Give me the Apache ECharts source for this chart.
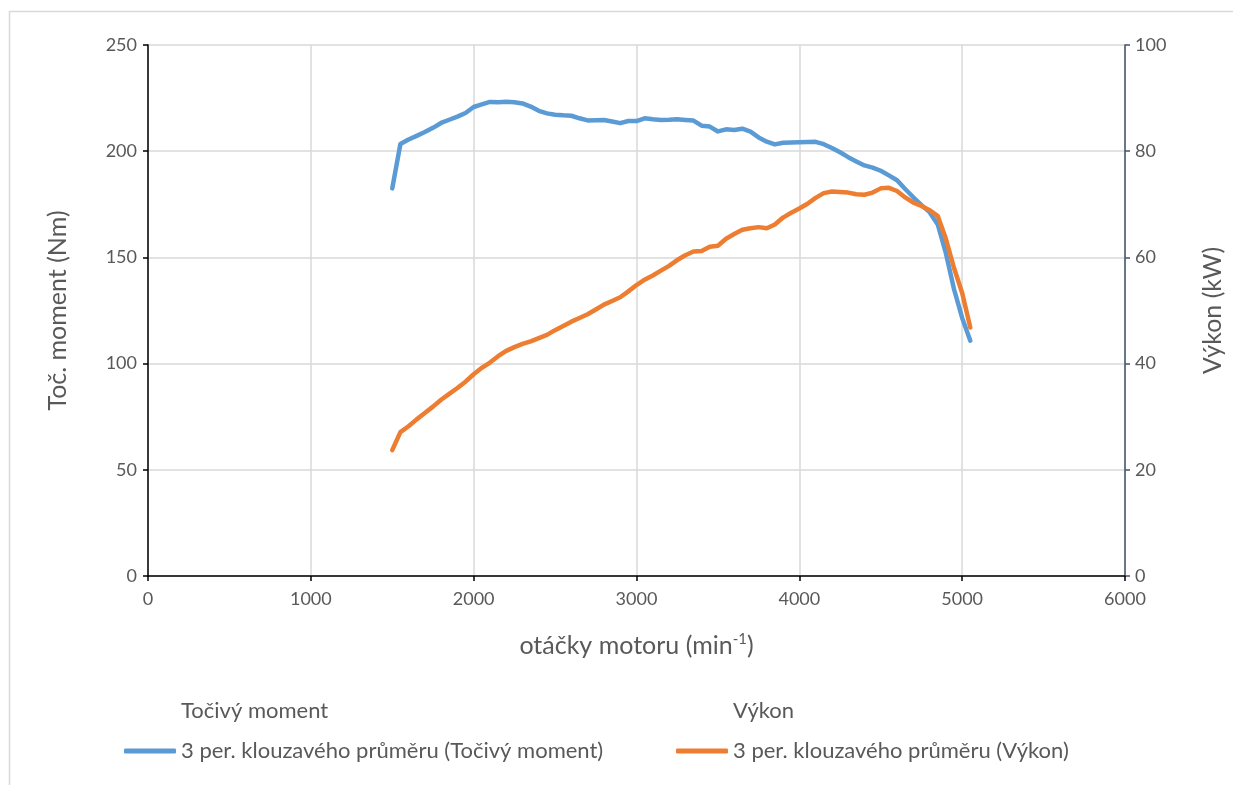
<!DOCTYPE html>
<html>
<head>
<meta charset="utf-8">
<title>Točivý moment a výkon</title>
<script src="https://cdn.jsdelivr.net/npm/echarts@6/dist/echarts.min.js"></script>
<style>
  html, body { margin: 0; padding: 0; background: #fff; overflow: hidden; }
  #chart { width: 1233px; height: 785px; }
</style>
</head>
<body>
<div id="chart"></div>
<script>
// otáčky motoru (min-1)
const rpm = [1500, 1550, 1600, 1650, 1700, 1750, 1800, 1850, 1900, 1950,
  2000, 2050, 2100, 2150, 2200, 2250, 2300, 2350, 2400, 2450,
  2500, 2550, 2600, 2650, 2700, 2750, 2800, 2850, 2900, 2950,
  3000, 3050, 3100, 3150, 3200, 3250, 3300, 3350, 3400, 3450,
  3500, 3550, 3600, 3650, 3700, 3750, 3800, 3850, 3900, 3950,
  4000, 4050, 4100, 4150, 4200, 4250, 4300, 4350, 4400, 4450,
  4500, 4550, 4600, 4650, 4700, 4750, 4800, 4850, 4900, 4950,
  5000, 5050];

// 3 per. klouzavý průměr - točivý moment (Nm)
const torque = [182.5, 203.4, 205.5, 207.2, 209.0, 211.0, 213.3, 214.8, 216.3, 218.0,
  220.8, 222.0, 223.2, 223.1, 223.3, 223.0, 222.5, 221.0, 219.0, 217.8,
  217.2, 216.9, 216.7, 215.5, 214.5, 214.6, 214.7, 214.0, 213.2, 214.2,
  214.2, 215.5, 215.0, 214.7, 214.8, 215.0, 214.7, 214.4, 212.0, 211.6,
  209.3, 210.3, 210.0, 210.6, 209.2, 206.5, 204.5, 203.2, 204.0, 204.1,
  204.2, 204.3, 204.4, 203.3, 201.5, 199.5, 197.2, 195.2, 193.3, 192.3,
  190.8, 188.6, 186.3, 182.2, 178.3, 174.6, 171.3, 165.5, 152.0, 135.0,
  121.5, 110.8];

// 3 per. klouzavý průměr - výkon (kW)
const power = [23.7, 27.1, 28.2, 29.5, 30.7, 31.9, 33.2, 34.3, 35.4, 36.6,
  38.0, 39.2, 40.2, 41.4, 42.4, 43.1, 43.7, 44.2, 44.8, 45.4,
  46.3, 47.1, 47.9, 48.6, 49.3, 50.2, 51.1, 51.8, 52.5, 53.6,
  54.8, 55.8, 56.6, 57.5, 58.4, 59.5, 60.4, 61.1, 61.2, 62.0,
  62.2, 63.5, 64.4, 65.2, 65.5, 65.7, 65.5, 66.2, 67.5, 68.4,
  69.2, 70.1, 71.2, 72.1, 72.4, 72.3, 72.2, 71.9, 71.8, 72.2,
  73.0, 73.1, 72.5, 71.3, 70.3, 69.7, 68.9, 67.8, 63.5, 58.0,
  53.3, 46.8];

const colors = ['#5B9BD5', '#ED7D31'];
const textColor = '#595959';
const font = 'Lato, "Noto Sans", sans-serif';

const chart = echarts.init(document.getElementById('chart'));

const legendBase = {
  orient: 'horizontal',
  selectedMode: false,
  textStyle: { color: textColor, fontSize: 22, fontFamily: font }
};

const option = {
  animation: false,
  textStyle: { fontFamily: font },
  graphic: [{
    type: 'polyline',
    shape: { points: [[1240, 11.5], [9.5, 11.5], [9.5, 790]] },
    style: { fill: 'none', stroke: '#D9D9D9', lineWidth: 1.5 },
    silent: true
  }],
  grid: { left: 148, right: 102, top: 45, bottom: 209 },
  legend: [
    Object.assign({}, legendBase, { data: ['Točivý moment'], icon: 'none', itemWidth: 2, left: 169, top: 695 }),
    Object.assign({}, legendBase, { data: ['Výkon'], icon: 'none', itemWidth: 2, left: 721, top: 695 }),
    Object.assign({}, legendBase, { data: ['3 per. klouzavého průměru (Točivý moment)'], icon: 'roundRect', itemWidth: 52, itemHeight: 5, left: 119, top: 735 }),
    Object.assign({}, legendBase, { data: ['3 per. klouzavého průměru (Výkon)'], icon: 'roundRect', itemWidth: 52, itemHeight: 5, left: 671, top: 735 })
  ],
  xAxis: {
    type: 'value',
    min: 0, max: 6000, interval: 1000,
    name: '{a|otáčky motoru (min}{s|-1}{a|)}',
    nameLocation: 'middle',
    nameGap: 56,
    nameTextStyle: {
      rich: {
        a: { fontSize: 25, color: textColor, fontFamily: font },
        s: { fontSize: 15, color: textColor, fontFamily: font, padding: [0, 0, 12, 0] }
      }
    },
    axisLine: { show: true, lineStyle: { color: '#000', width: 1.5 } },
    axisTick: { show: true, length: 5, lineStyle: { color: '#000', width: 1.5 } },
    axisLabel: { color: textColor, fontSize: 18, margin: 14, fontFamily: font, formatter: v => String(v) },
    splitLine: { show: true, lineStyle: { color: '#D9D9D9', width: 1.5 } }
  },
  yAxis: [{
    type: 'value',
    min: 0, max: 250, interval: 50,
    name: 'Toč. moment (Nm)',
    nameLocation: 'middle',
    nameRotate: 90,
    nameGap: 78,
    nameTextStyle: { color: textColor, fontSize: 25, fontFamily: font },
    axisLine: { show: true, lineStyle: { color: '#000', width: 1.5 } },
    axisTick: { show: true, length: 5, lineStyle: { color: '#000', width: 1.5 } },
    axisLabel: { color: textColor, fontSize: 18, margin: 11, fontFamily: font },
    splitLine: { show: true, lineStyle: { color: '#D9D9D9', width: 1.5 } }
  }, {
    type: 'value',
    position: 'right',
    min: 0, max: 100, interval: 20,
    name: 'Výkon (kW)',
    nameLocation: 'middle',
    nameRotate: 90,
    nameGap: 75,
    nameTextStyle: { color: textColor, fontSize: 25, fontFamily: font },
    axisLine: { show: true, lineStyle: { color: '#44546A', width: 1.5 } },
    axisTick: { show: true, length: 5, lineStyle: { color: '#44546A', width: 1.5 } },
    axisLabel: { color: textColor, fontSize: 18, margin: 10, fontFamily: font },
    splitLine: { show: false }
  }],
  series: [
    // puvodni body (v grafu bez znacek a bez cary)
    { name: 'Točivý moment', type: 'line', data: [], showSymbol: false },
    { name: 'Výkon', type: 'line', yAxisIndex: 1, data: [], showSymbol: false },
    {
      name: '3 per. klouzavého průměru (Točivý moment)',
      type: 'line',
      data: rpm.map((r, i) => [r, torque[i]]),
      symbol: 'none',
      color: colors[0],
      lineStyle: { color: colors[0], width: 4.5, cap: 'round', join: 'round' },
      z: 3
    },
    {
      name: '3 per. klouzavého průměru (Výkon)',
      type: 'line',
      yAxisIndex: 1,
      data: rpm.map((r, i) => [r, power[i]]),
      symbol: 'none',
      color: colors[1],
      lineStyle: { color: colors[1], width: 4.5, cap: 'round', join: 'round' },
      z: 4
    }
  ]
};

chart.setOption(option);
</script>
</body>
</html>
